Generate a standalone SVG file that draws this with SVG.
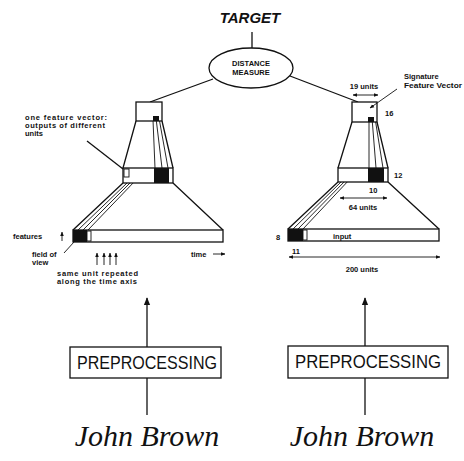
<svg xmlns="http://www.w3.org/2000/svg" width="464" height="461" viewBox="0 0 464 461">
<defs>
<style>
.ln{stroke:#111;stroke-width:1.3;fill:none}
.th{stroke:#111;stroke-width:0.9;fill:none}
.bx{stroke:#111;stroke-width:1.3;fill:#fff}
.dk{fill:#111}
.sm{font-family:"Liberation Sans",Arial,sans-serif;font-size:7.5px;font-weight:bold;fill:#111}
.pp{font-family:"Liberation Sans",Arial,sans-serif;font-size:18px;fill:#111}
.sig{font-family:"Liberation Serif","DejaVu Serif",serif;font-style:italic;font-size:30px;fill:#111}
</style>
<marker id="ah" viewBox="0 0 10 10" refX="9" refY="5" markerWidth="6" markerHeight="6" orient="auto-start-reverse">
<path d="M0,1 L10,5 L0,9 z" fill="#111"/>
</marker>
<marker id="ahs" viewBox="0 0 10 10" refX="9" refY="5" markerWidth="5" markerHeight="5" orient="auto-start-reverse">
<path d="M0,1 L10,5 L0,9 z" fill="#111"/>
</marker>
</defs>
<rect width="464" height="461" fill="#fff"/>

<g id="target">
<text x="250" y="23" text-anchor="middle" font-family="Liberation Sans,Arial,sans-serif" font-size="15" font-weight="bold" font-style="italic" fill="#111">TARGET</text>
</g>

<g id="distance">
<ellipse cx="251" cy="68" rx="42" ry="20" class="bx"/>
<text x="251" y="66" text-anchor="middle" class="sm">DISTANCE</text>
<text x="251" y="75" text-anchor="middle" class="sm">MEASURE</text>
</g>

<g id="connectors">
<line x1="252" y1="32" x2="252" y2="48" class="ln"/>
<line x1="213" y1="79" x2="150" y2="102" class="ln"/>
<line x1="290" y1="76" x2="358" y2="102" class="ln"/>
<line x1="147" y1="347" x2="147" y2="298" class="ln" marker-end="url(#ah)"/>
<line x1="147" y1="378" x2="147" y2="415" class="ln"/>
<line x1="365" y1="346" x2="365" y2="298" class="ln" marker-end="url(#ah)"/>
<line x1="365" y1="378" x2="365" y2="415" class="ln"/>
</g>

<g id="left-network">
<path d="M123,183 L73,230 M173,183 L223,230" class="ln"/>
<path d="M127,183 L78,230 M131,182 L83,230 M135,181 L88,230" class="th"/>
<rect x="73" y="230" width="150" height="12" class="bx"/>
<rect x="73" y="230" width="14" height="12" class="dk"/>
<rect x="87" y="231" width="4" height="10" class="th"/>
<path d="M136,121 L123,168 M162,121 L173,168" class="ln"/>
<path d="M153,120 L155,168 M156,118 L162,168 M159,118 L168,168" class="th"/>
<rect x="123" y="168" width="50" height="15" class="bx"/>
<rect x="154" y="168" width="15" height="15" class="dk"/>
<rect x="124" y="169" width="5" height="8" class="th"/>
<rect x="136" y="102" width="26" height="19" class="bx"/>
<rect x="153" y="116" width="6" height="5" class="dk"/>
<text x="25" y="120" class="sm" textLength="82">one feature vector:</text>
<text x="25" y="128" class="sm" textLength="80">outputs of different</text>
<text x="25" y="136" class="sm">units</text>
<line x1="87" y1="141" x2="123" y2="169" class="ln"/>
<text x="13" y="239" class="sm">features</text>
<line x1="62" y1="241" x2="62" y2="232" class="th" marker-end="url(#ahs)"/>
<text x="32" y="257" class="sm">field of</text>
<text x="32" y="265" class="sm">view</text>
<line x1="64" y1="253" x2="74" y2="242" class="th"/>
<line x1="97" y1="265" x2="97" y2="253" class="th" marker-end="url(#ahs)"/>
<line x1="104" y1="265" x2="104" y2="253" class="th" marker-end="url(#ahs)"/>
<line x1="110" y1="265" x2="110" y2="253" class="th" marker-end="url(#ahs)"/>
<line x1="116" y1="265" x2="116" y2="253" class="th" marker-end="url(#ahs)"/>
<text x="57" y="276" class="sm" textLength="81">same unit repeated</text>
<text x="57" y="284" class="sm" textLength="80">along the time axis</text>
<text x="191" y="257" class="sm">time</text>
<line x1="213" y1="254" x2="225" y2="254" class="th" marker-end="url(#ahs)"/>
</g>

<g id="right-network">
<path d="M338,182 L288,229 M388,182 L439,229" class="ln"/>
<path d="M342,181 L293,229 M346,180 L298,229 M350,179 L303,229" class="th"/>
<rect x="288" y="229" width="151" height="12" class="bx"/>
<rect x="288" y="229" width="15" height="12" class="dk"/>
<rect x="303" y="230" width="4" height="10" class="th"/>
<text x="333" y="239" class="sm">input</text>
<path d="M352,122 L338,168 M377,122 L388,168" class="ln"/>
<path d="M369,120 L369,168 M372,118 L376,168 M375,118 L383,168" class="th"/>
<rect x="338" y="168" width="50" height="14" class="bx"/>
<rect x="368" y="168" width="16" height="14" class="dk"/>
<rect x="352" y="102" width="25" height="20" class="bx"/>
<rect x="368" y="117" width="6" height="5" class="dk"/>
<text x="385" y="116" class="sm">16</text>
<text x="394" y="178" class="sm">12</text>
<text x="369" y="193" class="sm">10</text>
<text x="276" y="240" class="sm">8</text>
<text x="292" y="254" class="sm">11</text>
<line x1="340" y1="198" x2="387" y2="198" class="th" marker-start="url(#ahs)" marker-end="url(#ahs)"/>
<text x="363" y="210" text-anchor="middle" class="sm">64 units</text>
<line x1="289" y1="257" x2="440" y2="257" class="th" marker-start="url(#ahs)" marker-end="url(#ahs)"/>
<text x="362" y="272" text-anchor="middle" class="sm">200 units</text>
<text x="364" y="89" text-anchor="middle" class="sm">19 units</text>
<line x1="353" y1="95" x2="378" y2="95" class="th" marker-start="url(#ahs)" marker-end="url(#ahs)"/>
<text x="404" y="79" class="sm">Signature</text>
<text x="404" y="88" class="sm" textLength="58" lengthAdjust="spacingAndGlyphs">Feature Vector</text>
<line x1="397" y1="89" x2="370" y2="108" class="th" marker-end="url(#ahs)"/>
</g>

<g id="pre-left">
<rect x="70" y="347" width="151" height="31" class="bx"/>
<text x="77" y="369" class="pp" textLength="140" lengthAdjust="spacingAndGlyphs">PREPROCESSING</text>
</g>
<g id="pre-right">
<rect x="288" y="346" width="160" height="32" class="bx"/>
<text x="295" y="368" class="pp" textLength="146" lengthAdjust="spacingAndGlyphs">PREPROCESSING</text>
</g>

<g id="sig-left">
<text x="147" y="446" text-anchor="middle" class="sig">John Brown</text>
</g>
<g id="sig-right">
<text x="362" y="446" text-anchor="middle" class="sig">John Brown</text>
</g>
</svg>
